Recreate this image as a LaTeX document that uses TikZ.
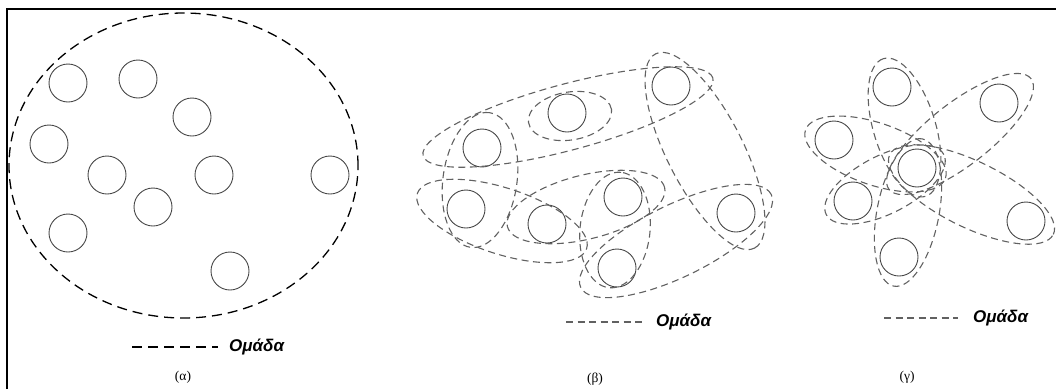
\documentclass[tikz,border=0pt]{standalone}
\usepackage{fontspec}
\setmainfont{Liberation Sans}
\newfontfamily\capfont{Liberation Serif}
\begin{document}
\begin{tikzpicture}[x=1pt,y=-1pt,
    member/.style={circle,draw=black!72,line width=0.9pt,minimum size=38pt,inner sep=0pt},
    biggroup/.style={draw=black,line width=1.3pt,dash pattern=on 10pt off 6pt},
    grp/.style={draw=black!62,line width=1.1pt,dash pattern=on 7pt off 4.5pt},
    legend/.style={font=\fontsize{17}{19}\selectfont\bfseries\itshape,anchor=west,inner sep=0pt},
    caption/.style={font=\capfont\fontsize{13.5}{15}\selectfont,inner sep=0pt}]
    \useasboundingbox (0,0) rectangle (1056,389);

    %Frame
    \draw[line width=2pt] (6.5,389) -- (6.5,9) -- (1056,9);

    %Nodes (a)
    \node[member] at (68,83)   (a1)  {};
    \node[member] at (138,79)  (a2)  {};
    \node[member] at (192,117) (a3)  {};
    \node[member] at (49,144)  (a4)  {};
    \node[member] at (107,175) (a5)  {};
    \node[member] at (214,175) (a6)  {};
    \node[member] at (330,175) (a7)  {};
    \node[member] at (153,207) (a8)  {};
    \node[member] at (68,233)  (a9)  {};
    \node[member] at (230,271) (a10) {};

    %Nodes (b)
    \node[member] at (671,86)  (b1) {};
    \node[member] at (567,113) (b2) {};
    \node[member] at (482,148) (b3) {};
    \node[member] at (466,209) (b4) {};
    \node[member] at (547,224) (b5) {};
    \node[member] at (623,197) (b6) {};
    \node[member] at (736,213) (b7) {};
    \node[member] at (617,268) (b8) {};

    %Nodes (c)
    \node[member] at (892,87)  (c1) {};
    \node[member] at (999,103) (c2) {};
    \node[member] at (834,140) (c3) {};
    \node[member] at (917,168) (c4) {};
    \node[member] at (853,201) (c5) {};
    \node[member] at (1026,221)(c6) {};
    \node[member] at (899,257) (c7) {};

    %Groups (a)
    \draw[biggroup] (183.5,165.5) ellipse [x radius=174.5pt, y radius=152.5pt];

    %Groups (b)
    \draw[grp,rotate around={9:(570,116)}]    (570,116) ellipse [x radius=42pt,  y radius=24pt];
    \draw[grp,rotate around={15:(568,117)}]   (568,117) ellipse [x radius=150pt, y radius=33pt];
    \draw[grp,rotate around={82:(480,180)}]   (480,180) ellipse [x radius=68pt,  y radius=37pt];
    \draw[grp,rotate around={-18:(502,221)}]  (502,221) ellipse [x radius=89pt,  y radius=33pt];
    \draw[grp,rotate around={14:(586,207)}]   (586,207) ellipse [x radius=81pt,  y radius=32pt];
    \draw[grp,rotate around={84:(615,230)}]   (615,230) ellipse [x radius=58pt,  y radius=35pt];
    \draw[grp,rotate around={-63:(705,151)}]  (705,151) ellipse [x radius=109pt, y radius=38pt];
    \draw[grp,rotate around={26:(676,241)}]   (676,241) ellipse [x radius=106pt, y radius=36pt];

    %Groups (c)
    \draw[grp,rotate around={107:(904.5,127.5)}] (904.5,127.5) ellipse [x radius=72pt, y radius=31pt];
    \draw[grp,rotate around={38:(960,134)}]      (960,134)     ellipse [x radius=90pt, y radius=31pt];
    \draw[grp,rotate around={-19:(875.5,154)}]   (875.5,154)   ellipse [x radius=74pt, y radius=31pt];
    \draw[grp,rotate around={27:(885,184.5)}]    (885,184.5)   ellipse [x radius=66pt, y radius=29pt];
    \draw[grp,rotate around={-26:(971.5,194.5)}] (971.5,194.5) ellipse [x radius=91pt, y radius=33pt];
    \draw[grp,rotate around={79:(908,212.5)}]    (908,212.5)   ellipse [x radius=75pt, y radius=31pt];

    %Legends
    \coordinate (ka) at (132,347);
    \node[legend] at (229,347) (la) {Ομάδα};
    \draw[biggroup] (ka) -- (218,347);
    \coordinate (kb) at (566,322);
    \node[legend] at (656,322) (lb) {Ομάδα};
    \draw[grp] (kb) -- (644,322);
    \coordinate (kc) at (884,318);
    \node[legend] at (973,318) (lc) {Ομάδα};
    \draw[grp] (kc) -- (958,318);

    %Captions
    \node[caption] at (183,377) (ca) {(α)};
    \node[caption] at (595,379) (cb) {(β)};
    \node[caption] at (907,377) (cc) {(γ)};
\end{tikzpicture}
\end{document}
